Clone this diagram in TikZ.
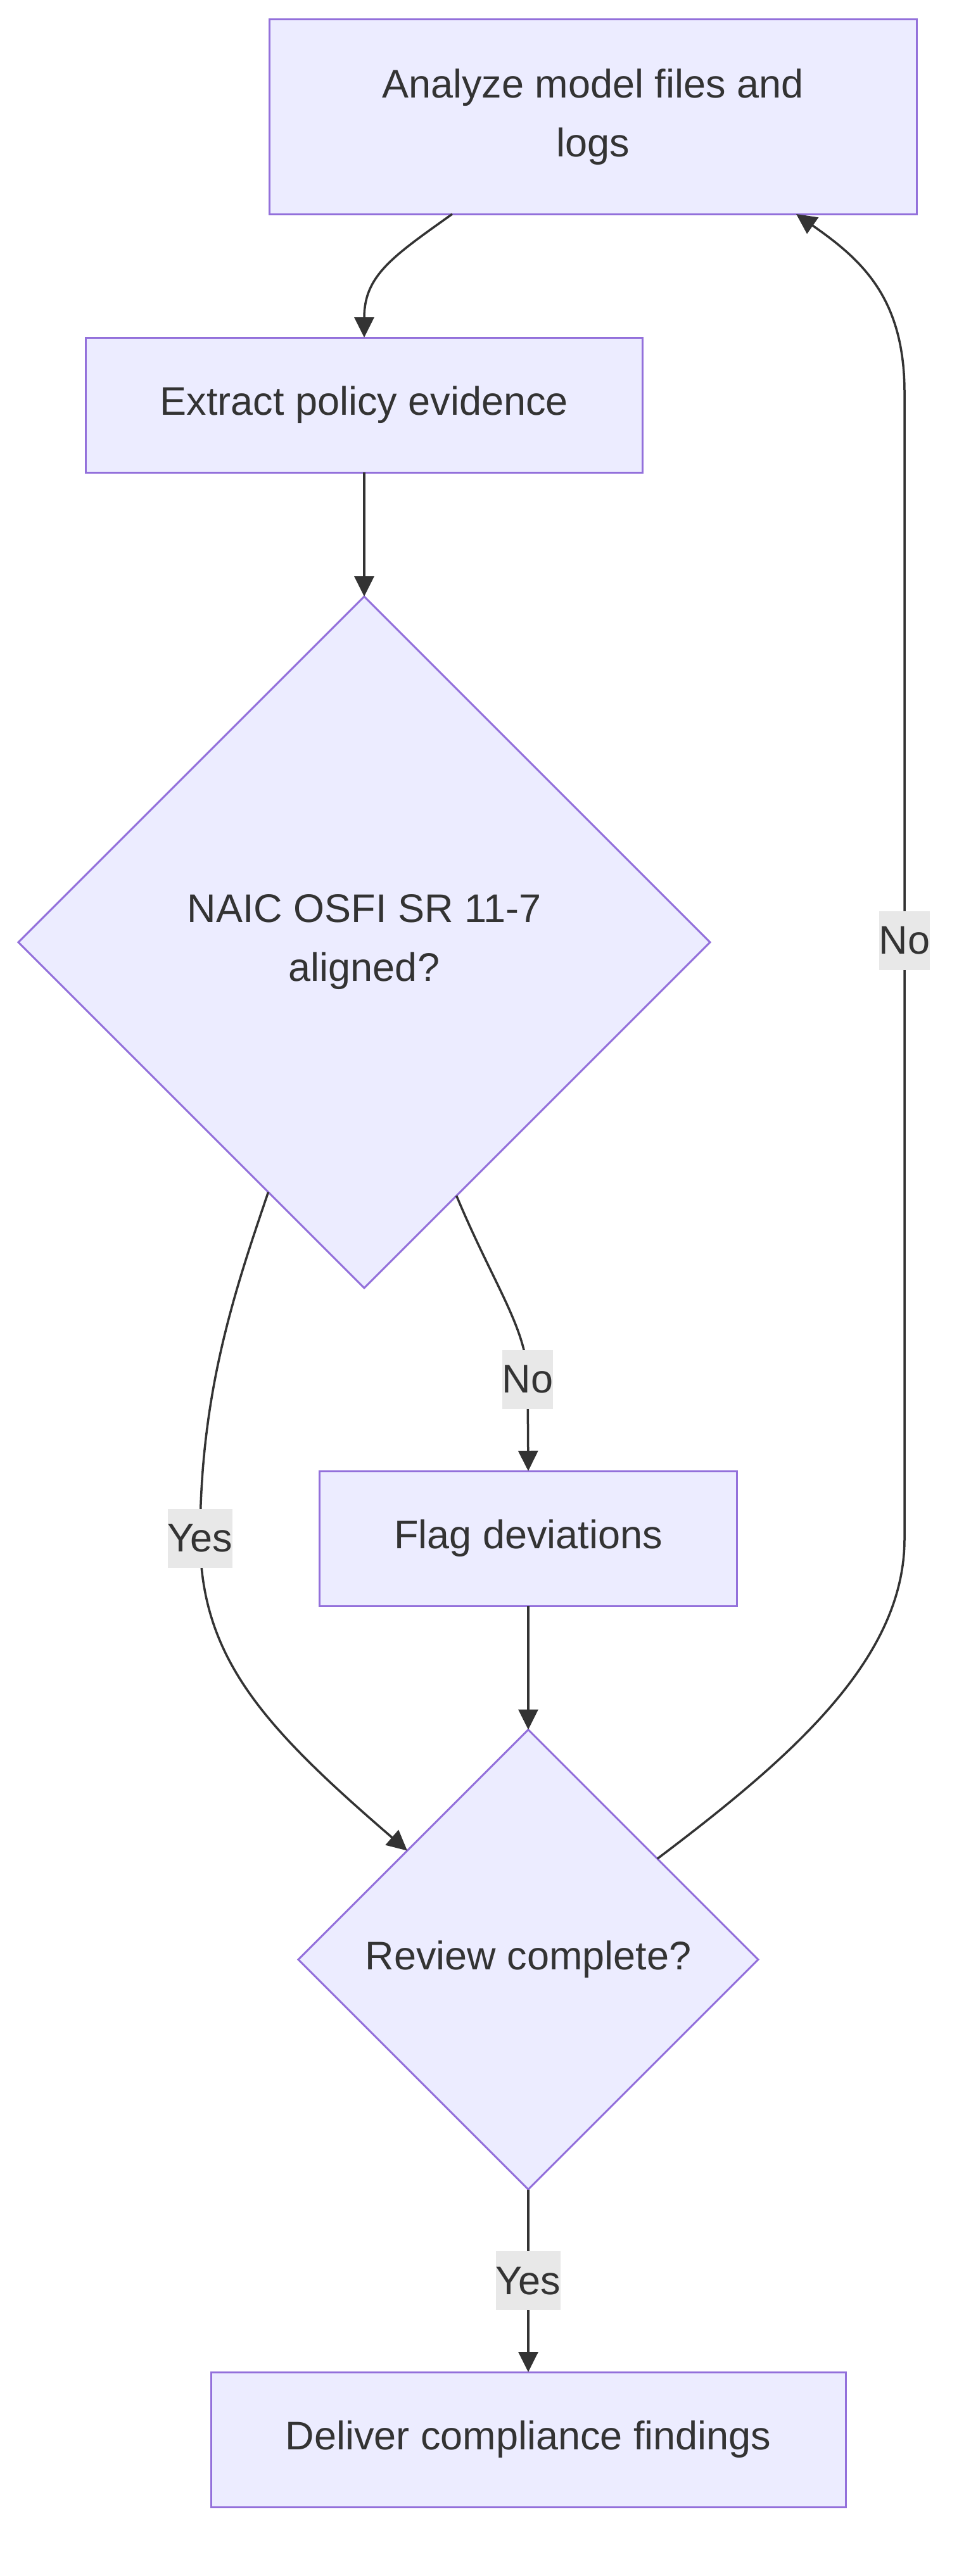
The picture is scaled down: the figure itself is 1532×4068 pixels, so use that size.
\documentclass[tikz,border=0pt]{standalone}
\usepackage{fontspec}
\setmainfont{Liberation Sans}
\usetikzlibrary{shapes.geometric,arrows.meta}
\definecolor{nodefill}{HTML}{ECECFF}
\definecolor{nodeline}{HTML}{9370DB}
\definecolor{edgecol}{HTML}{333333}
\definecolor{labelbg}{HTML}{E8E8E8}
\begin{document}
\begin{tikzpicture}[x=1pt,y=-1pt,
  box/.style={draw=nodeline, fill=nodefill, line width=3pt, inner sep=0pt, outer sep=0pt,
    text=edgecol, font=\fontsize{63}{93}\selectfont, align=center},
  decision/.style={box, diamond, aspect=1},
  link/.style={draw=edgecol, line width=3.5pt, -{Triangle[length=32pt,width=31pt]}},
  elabel/.style={fill=labelbg, text=edgecol, font=\fontsize{63}{93}\selectfont,
    inner xsep=0pt, inner ysep=0pt, minimum height=93pt}]
\useasboundingbox (0,0) rectangle (1532,4068);
\node[box, minimum width=1022pt, minimum height=307pt] (an) at (936,184.5) {Analyze model files and\\logs};
\node[box, minimum width=879pt, minimum height=213pt] (ex) at (575,639.5) {Extract policy evidence};
\node[decision, minimum width=1092pt, minimum height=1092pt] (d1) at (575,1488) {NAIC OSFI SR 11-7\\aligned?};
\node[box, minimum width=659pt, minimum height=213pt] (fl) at (834,2429.5) {Flag deviations};
\node[decision, minimum width=726pt, minimum height=726pt] (d2) at (834,3094.5) {Review complete?};
\node[box, minimum width=1002pt, minimum height=213pt] (dl) at (834,3852.5) {Deliver compliance findings};

\draw[link] ([xshift=289pt]an.south west) .. controls (620,405) and (575,435) .. (ex.north);
\draw[link] (ex.south) -- (d1.north);
\draw[link] (d1.249.4) .. controls (370,2040) and (316,2200) .. (316,2429) node[elabel] (ly1) {Yes}
   .. controls (316,2620) and (420,2730) .. (d2.138.6);
\draw[link] (d1.290.5) .. controls (780,2030) and (833,2100) .. (833,2178) node[elabel] (ln1) {No} -- (fl.north);
\draw[link] (fl.south) -- (d2.north);
\draw[link] (d2.38.3) .. controls (1250,2775) and (1428,2620) .. (1428,2430) -- (1428,1485) node[elabel] (ln2) {No}
   -- (1428,620) .. controls (1428,470) and (1360,410) .. ([xshift=-190pt]an.south east);
\draw[link] (d2.south) -- (dl.north) node[elabel, midway] (ly2) {Yes};
\end{tikzpicture}
\end{document}
